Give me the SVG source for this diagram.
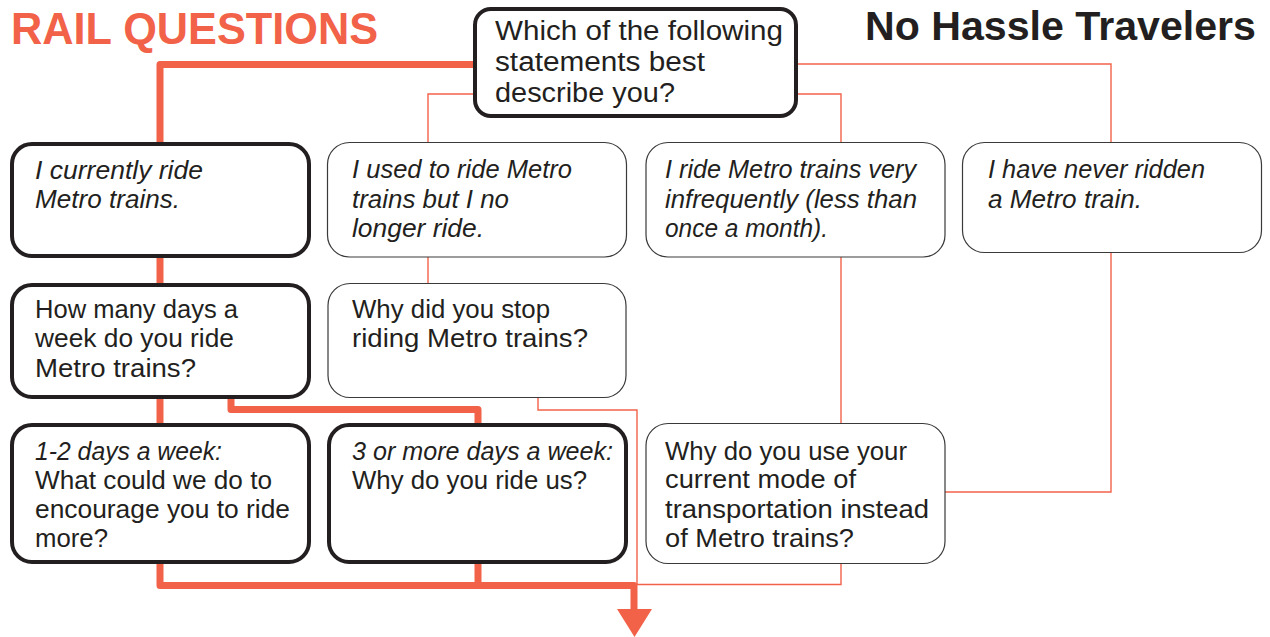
<svg xmlns="http://www.w3.org/2000/svg" width="1270" height="637" viewBox="0 0 1270 637">
<style>
.t{font-family:"Liberation Sans",Arial,sans-serif;font-size:25px;fill:#231f20}
.q{font-size:27px}
.i{font-style:italic}
.h{font-family:"Liberation Sans",Arial,sans-serif;font-weight:bold}
.thick{fill:#fff;stroke:#231f20;stroke-width:4}
.thin{fill:#fff;stroke:#3a3a3a;stroke-width:1.2}
.c1{fill:none;stroke:#f26249;stroke-width:7;stroke-linejoin:round;stroke-linecap:butt}
.c2{fill:none;stroke:#f26249;stroke-width:1.4}
</style>
<rect width="1270" height="637" fill="#fff"/>
<text class="h" x="11" y="44" font-size="44" fill="#f26249" textLength="367" lengthAdjust="spacingAndGlyphs">RAIL QUESTIONS</text>
<text class="h" x="865" y="40" font-size="41" fill="#231f20" textLength="391" lengthAdjust="spacingAndGlyphs">No Hassle Travelers</text>
<g id="connectors">
<path class="c2" d="M474,94 H428 V143"/>
<path class="c2" d="M797,94 H841 V143"/>
<path class="c2" d="M797,64 H1111 V143"/>
<path class="c2" d="M428,257 V284"/>
<path class="c2" d="M538,398 V410 H637 V584.5 H841 V564"/>
<path class="c2" d="M841,257 V424"/>
<path class="c2" d="M1111,253 V492 H945"/>
<path class="c1" d="M474,64.5 H160 V143"/>
<path class="c1" d="M160,257 V284"/>
<path class="c1" d="M160,398 V424"/>
<path class="c1" d="M231,398 V409.5 H478 V424"/>
<path class="c1" d="M160,563 V585.5 H634 V612"/>
<path class="c1" d="M478,563 V585.5"/>
<polygon points="617,609 652,609 634.5,637" fill="#f26249"/>
</g>
<g id="n-start">
<rect class="thick" x="475" y="9" width="321" height="107" rx="16"/>
<text class="t q" x="495" y="40" textLength="288" lengthAdjust="spacingAndGlyphs">Which of the following</text>
<text class="t q" x="495" y="71" textLength="210" lengthAdjust="spacingAndGlyphs">statements best</text>
<text class="t q" x="495" y="102" textLength="180" lengthAdjust="spacingAndGlyphs">describe you?</text>
</g>
<g id="n-current">
<rect class="thick" x="12" y="144" width="297" height="112" rx="20"/>
<text class="t i" x="35" y="179" textLength="168" lengthAdjust="spacingAndGlyphs">I currently ride</text>
<text class="t i" x="35" y="208" textLength="145" lengthAdjust="spacingAndGlyphs">Metro trains.</text>
</g>
<g id="n-used">
<rect class="thin" x="327.5" y="142.5" width="299" height="114.5" rx="22"/>
<text class="t i" x="352" y="178" textLength="220" lengthAdjust="spacingAndGlyphs">I used to ride Metro</text>
<text class="t i" x="352" y="208" textLength="157" lengthAdjust="spacingAndGlyphs">trains but I no</text>
<text class="t i" x="352" y="237" textLength="132" lengthAdjust="spacingAndGlyphs">longer ride.</text>
</g>
<g id="n-infrequent">
<rect class="thin" x="646" y="142.5" width="299" height="114.5" rx="22"/>
<text class="t i" x="665" y="178" textLength="251" lengthAdjust="spacingAndGlyphs">I ride Metro trains very</text>
<text class="t i" x="665" y="208" textLength="252" lengthAdjust="spacingAndGlyphs">infrequently (less than</text>
<text class="t i" x="665" y="237" textLength="163" lengthAdjust="spacingAndGlyphs">once a month).</text>
</g>
<g id="n-never">
<rect class="thin" x="962.5" y="142.5" width="299" height="110" rx="22"/>
<text class="t i" x="988" y="178" textLength="217" lengthAdjust="spacingAndGlyphs">I have never ridden</text>
<text class="t i" x="988" y="208" textLength="154" lengthAdjust="spacingAndGlyphs">a Metro train.</text>
</g>
<g id="n-howmany">
<rect class="thick" x="12" y="285" width="297" height="112" rx="20"/>
<text class="t" x="35" y="318" textLength="203" lengthAdjust="spacingAndGlyphs">How many days a</text>
<text class="t" x="35" y="347" textLength="199" lengthAdjust="spacingAndGlyphs">week do you ride</text>
<text class="t" x="35" y="377" textLength="161" lengthAdjust="spacingAndGlyphs">Metro trains?</text>
</g>
<g id="n-whystop">
<rect class="thin" x="328" y="283.5" width="298" height="114" rx="22"/>
<text class="t" x="352" y="318" textLength="198" lengthAdjust="spacingAndGlyphs">Why did you stop</text>
<text class="t" x="352" y="347" textLength="236" lengthAdjust="spacingAndGlyphs">riding Metro trains?</text>
</g>
<g id="n-12days">
<rect class="thick" x="12" y="425" width="297" height="137" rx="20"/>
<text class="t i" x="35" y="460" textLength="187" lengthAdjust="spacingAndGlyphs">1-2 days a week:</text>
<text class="t" x="35" y="489" textLength="237" lengthAdjust="spacingAndGlyphs">What could we do to</text>
<text class="t" x="35" y="518" textLength="255" lengthAdjust="spacingAndGlyphs">encourage you to ride</text>
<text class="t" x="35" y="547" textLength="73" lengthAdjust="spacingAndGlyphs">more?</text>
</g>
<g id="n-3days">
<rect class="thick" x="329" y="425" width="297" height="137" rx="20"/>
<text class="t i" x="352" y="460" textLength="261" lengthAdjust="spacingAndGlyphs">3 or more days a week:</text>
<text class="t" x="352" y="489" textLength="235" lengthAdjust="spacingAndGlyphs">Why do you ride us?</text>
</g>
<g id="n-mode">
<rect class="thin" x="646" y="423.5" width="299" height="140" rx="22"/>
<text class="t" x="665" y="460" textLength="242" lengthAdjust="spacingAndGlyphs">Why do you use your</text>
<text class="t" x="665" y="488" textLength="191" lengthAdjust="spacingAndGlyphs">current mode of</text>
<text class="t" x="665" y="518" textLength="264" lengthAdjust="spacingAndGlyphs">transportation instead</text>
<text class="t" x="665" y="547" textLength="189" lengthAdjust="spacingAndGlyphs">of Metro trains?</text>
</g>
</svg>
